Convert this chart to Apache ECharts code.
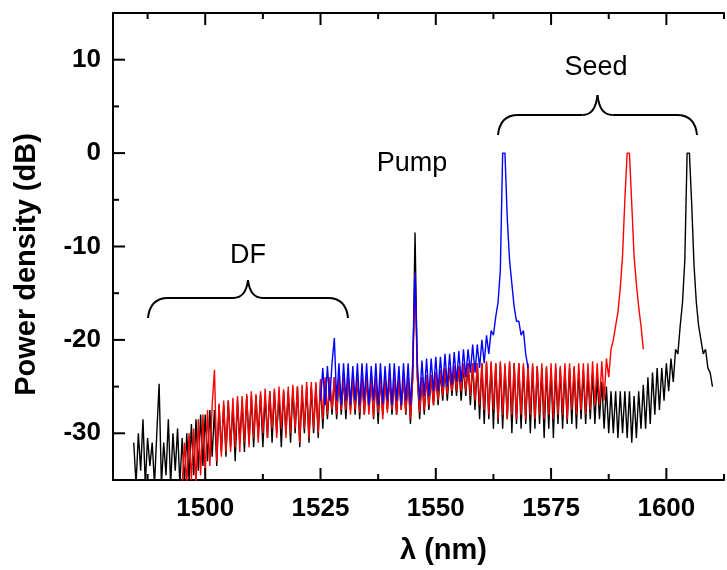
<!DOCTYPE html>
<html>
<head>
<meta charset="utf-8">
<script src="https://cdn.jsdelivr.net/npm/echarts@6/dist/echarts.min.js"></script>
<style>
  html, body { margin: 0; padding: 0; background: #fff; }
  #chart { width: 727px; height: 570px; }
</style>
</head>
<body>
<div id="chart"></div>
<script>
var STEP = 0.5;

var blackStart = 1484.5;
var blackValues = [
  -31, -35.5, -30, -34, -28.5, -35.5, -30.5, -33.5, -31, -35.5,      // 1484.5
  -30, -24.7, -35.5, -31, -34.5, -28.5, -35.5, -30, -34, -29.5,      // 1489.5
  -35.5, -30.5, -35.5, -30, -35, -29, -34.5, -28.5, -34, -28,        // 1494.5
  -33.5, -28, -33, -27.5, -32.5, -27.5, -33.5, -27, -32, -27,        // 1499.5
  -32.5, -26.5, -31.5, -27, -33, -26.5, -31, -26.5, -32, -26,        // 1504.5
  -31, -26, -31.5, -26, -30.5, -25.8, -31.5, -26, -30.5, -25.5,      // 1509.5
  -31, -25.5, -30, -25.8, -31.5, -25.5, -30, -25.5, -31, -25.2,      // 1514.5
  -30, -25, -31.5, -25.5, -30, -25, -31, -25, -30, -24.8,            // 1519.5
  -30.5, -24.5, -29.5, -24.5, -28.5, -24.5, -28, -24, -28.5, -24,    // 1524.5
  -28, -24, -28.5, -24, -27.5, -24, -28, -24, -28.5, -24,            // 1529.5
  -28, -24, -27.5, -24, -28.5, -24, -29, -24, -28, -24,              // 1534.5
  -27.5, -24, -28, -24, -28, -24, -27.5, -24, -28, -24,              // 1539.5
  -29, -24, -8.5, -24, -28.5, -24, -28, -23.8, -27.5, -23.8,         // 1544.5
  -27, -23.5, -27, -23.5, -26.5, -23.2, -26.5, -23, -26, -23,        // 1549.5
  -26, -22.8, -26.5, -22.8, -26, -22.5, -27, -22.5, -27.5, -22.5,    // 1554.5
  -28.5, -22.5, -29, -22.5, -28.5, -22.5, -29.5, -22.5, -29, -22.5,  // 1559.5
  -29.5, -22.8, -28.5, -22.5, -30, -22.5, -29, -22.5, -29.5, -22.8,  // 1564.5
  -29, -22.8, -30, -22.8, -29.5, -22.8, -29, -23, -30.5, -23,        // 1569.5
  -29.5, -23, -30.5, -23, -29, -23, -29.5, -23, -29, -23,            // 1574.5
  -29, -23, -29.5, -23.2, -28.5, -23.2, -29, -23.5, -28.5, -23.5,    // 1579.5
  -29, -24, -28.5, -24.5, -29.5, -25, -30, -25.5, -30, -25.5,        // 1584.5
  -30.5, -25.5, -30, -25.5, -30.5, -25.5, -31, -26, -30.5, -25.5,    // 1589.5
  -29.5, -24.8, -29.5, -24, -29, -23.5, -28, -23, -27.5, -23,        // 1594.5
  -26.5, -22.5, -25.5, -22, -24.5, -21, -21.5, -18.5, -16, -11.5,    // 1599.5
  0, 0, -5.5, -12, -16, -18.5, -20, -21.5, -21, -23,                 // 1604.5
  -23.5, -25                                                         // 1609.5
];

var redStart = 1495;
var redValues = [
  -35.5, -31, -35.5, -30, -35, -29.5, -35.5, -28.5, -34.5, -28,      // 1495
  -34.5, -27.5, -33.5, -27, -23.2, -33, -26.8, -32.5, -26.5, -32,    // 1500
  -26.5, -32, -26.2, -31.5, -26, -32, -26, -31, -25.8, -31.5,        // 1505
  -25.5, -30.5, -25.8, -31, -25.5, -30, -25.2, -30.5, -25.5, -29.5,  // 1510
  -25.2, -30.5, -25, -29.5, -25.3, -30.5, -25, -30, -24.8, -29.5,    // 1515
  -25, -31, -24.8, -29.5, -24.5, -30.5, -24.5, -29.5, -24.5, -30,    // 1520
  -24.2, -28.5, -24, -28, -24, -27.5, -24, -28, -23.8, -27.5,        // 1525
  -24, -27.5, -24, -28, -24, -27.5, -24, -27.8, -24, -28,            // 1530
  -24, -28, -24, -28.3, -24, -27.8, -24, -28.5, -24, -27.8,          // 1535
  -24, -27.5, -24, -28, -24, -27.5, -24, -27.8, -24, -28.5,          // 1540
  -24, -12.8, -24, -27.8, -24, -27.5, -23.8, -27, -23.8, -27,        // 1545
  -23.5, -26.5, -23.2, -26, -23, -25.8, -23, -25.5, -22.8, -25.5,    // 1550
  -22.8, -25.5, -22.5, -25.5, -22.5, -26, -22.5, -26.5, -22.5, -27,  // 1555
  -22.5, -27.5, -22.3, -28, -22.3, -27.5, -22.5, -28.5, -22.3, -28,  // 1560
  -22.5, -28.5, -22.3, -28, -22.5, -28.5, -22.5, -28, -22.5, -28.5,  // 1565
  -22.5, -28, -22.5, -28.5, -22.8, -28, -22.5, -28.5, -22.8, -28,    // 1570
  -22.5, -28.5, -22.5, -28, -22.8, -28, -22.5, -28.5, -22.5, -27.5,  // 1575
  -22.8, -28, -22.5, -27.5, -22.5, -28, -22.5, -27.5, -22.3, -27,    // 1580
  -22.5, -27, -22.3, -26.5, -22, -24, -21, -20, -18.5, -17,          // 1585
  -14.5, -11, -5, 0, 0, -5.5, -11, -14, -16.5, -18.5,                // 1590
  -21                                                                // 1595
];

var blueStart = 1525;
var blueValues = [
  -26.5, -23, -27, -22.8, -26.5, -22.5, -19.8, -26.5, -22.5, -27,    // 1525
  -22.5, -26.5, -22.5, -27, -22.8, -26.5, -22.5, -27, -22.5, -26.5,  // 1530
  -22.5, -27, -22.8, -26.5, -22.5, -27, -22.5, -26.8, -22.8, -26.5,  // 1535
  -22.5, -27, -22.5, -26.5, -22.8, -27, -22.5, -26.5, -22.5, -27,    // 1540
  -22.5, -12.8, -22.5, -26.5, -22.2, -26, -22, -26, -22, -25.5,      // 1545
  -21.8, -25.5, -21.8, -25, -21.5, -25, -21.5, -24.8, -21.3, -24.5,  // 1550
  -21.2, -24.5, -21, -24, -21, -23.5, -20.5, -23.5, -20.5, -23,      // 1555
  -20, -22.5, -19.5, -21.5, -19, -19.5, -17.5, -16, -12.5, 0,        // 1560
  0, -7, -11.5, -14, -16.5, -18, -18, -19.5, -19, -21.5,             // 1565
  -23                                                                // 1570
];

var xMajor = [1500, 1525, 1550, 1575, 1600];
var xMinor = [1487.5, 1512.5, 1537.5, 1562.5, 1587.5, 1612.5];
var yMajor = [-30, -20, -10, 0, 10];
var yMinor = [-25, -15, -5, 5];

function toPairs(start, values) {
  return values.map(function (v, i) { return [start + i * STEP, v]; });
}

var FONT = '"Liberation Sans", Arial, sans-serif';
var X_MIN = 1480, X_MAX = 1612.5, Y_MIN = -35, Y_MAX = 15;
var W = 727, H = 570;
var GRID = { left: 113, right: 3, top: 13, bottom: 90 };

function axisDef(dim, pos, labels) {
  var a = {
    type: 'value', position: pos,
    min: dim === 'x' ? X_MIN : Y_MIN,
    max: dim === 'x' ? X_MAX : Y_MAX,
    axisLine: { show: true, onZero: false, lineStyle: { color: '#000', width: 2 } },
    axisTick: { show: false },
    axisLabel: { show: false },
    splitLine: { show: false }
  };
  if (labels) {
    a.axisLabel = {
      show: true, customValues: labels, margin: dim === 'x' ? 16 : 12, color: '#000',
      fontSize: 26, fontWeight: 'bold', fontFamily: FONT,
      formatter: function (v) { return String(v); }
    };
  }
  return a;
}

var xBottom = axisDef('x', 'bottom', xMajor);
xBottom.name = 'λ (nm)';
xBottom.nameLocation = 'middle';
xBottom.nameGap = 56;
xBottom.nameTextStyle = { fontSize: 29, fontWeight: 'bold', color: '#000', fontFamily: FONT, padding: [0, 0, 0, 50] };

var yLeft = axisDef('y', 'left', yMajor);
yLeft.name = 'Power density (dB)';
yLeft.nameLocation = 'middle';
yLeft.nameGap = 72;
yLeft.nameTextStyle = { fontSize: 29, fontWeight: 'bold', color: '#000', fontFamily: FONT, padding: [0, 36, 0, 0] };

function spectrum(name, color, start, values) {
  return {
    name: name, type: 'line', xAxisIndex: 0, yAxisIndex: 0,
    data: toPairs(start, values),
    showSymbol: false, symbol: 'none', clip: true,
    lineStyle: { color: color, width: 1.4 },
    emphasis: { disabled: true }
  };
}

// curly brace built from lines and quadratic curves (pixel coordinates)
function brace(x0, x1, yEnd, yFlat, yTip) {
  var xm = (x0 + x1) / 2;
  var st = { fill: 'none', stroke: '#000', lineWidth: 2 };
  return [
    { type: 'bezierCurve', shape: { x1: x0, y1: yEnd, cpx1: x0 + 2, cpy1: yFlat, x2: x0 + 20, y2: yFlat }, style: st },
    { type: 'line', shape: { x1: x0 + 20, y1: yFlat, x2: xm - 15, y2: yFlat }, style: st },
    { type: 'bezierCurve', shape: { x1: xm - 15, y1: yFlat, cpx1: xm - 2, cpy1: yFlat, x2: xm, y2: yTip }, style: st },
    { type: 'bezierCurve', shape: { x1: xm, y1: yTip, cpx1: xm + 2, cpy1: yFlat, x2: xm + 15, y2: yFlat }, style: st },
    { type: 'line', shape: { x1: xm + 15, y1: yFlat, x2: x1 - 20, y2: yFlat }, style: st },
    { type: 'bezierCurve', shape: { x1: x1 - 20, y1: yFlat, cpx1: x1 - 2, cpy1: yFlat, x2: x1, y2: yEnd }, style: st }
  ];
}

// inward tick marks on the frame (same linear mapping as the grid)
var gx0 = GRID.left, gx1 = W - GRID.right, gy0 = GRID.top, gy1 = H - GRID.bottom;
function xPx(v) { return gx0 + (v - X_MIN) / (X_MAX - X_MIN) * (gx1 - gx0); }
function yPx(v) { return gy1 - (v - Y_MIN) / (Y_MAX - Y_MIN) * (gy1 - gy0); }
var ticks = [];
function tickLine(x1, y1, x2, y2) {
  ticks.push({
    type: 'line', z: 100,
    shape: { x1: x1, y1: y1, x2: x2, y2: y2 },
    style: { stroke: '#000', lineWidth: 2 }
  });
}
function xTicks(values, len) {
  values.forEach(function (v) {
    var px = xPx(v);
    tickLine(px, gy1, px, gy1 - len);
    tickLine(px, gy0, px, gy0 + len);
  });
}
function yTicks(values, len) {
  values.forEach(function (v) {
    var py = yPx(v);
    tickLine(gx0, py, gx0 + len, py);
  });
}
xTicks(xMajor, 12);
xTicks(xMinor, 6);
yTicks(yMajor, 12);
yTicks(yMinor, 6);

var labelStyle = { font: '27px ' + FONT, fill: '#000', align: 'center', verticalAlign: 'middle' };

var chart = echarts.init(document.getElementById('chart'));
chart.setOption({
  animation: false,
  grid: { left: GRID.left, right: GRID.right, top: GRID.top, bottom: GRID.bottom, outerBoundsMode: 'none' },
  xAxis: [xBottom, axisDef('x', 'top', null)],
  yAxis: [yLeft],
  series: [
    spectrum('black', '#000000', blackStart, blackValues),
    spectrum('red', '#ff0000', redStart, redValues),
    spectrum('blue', '#0000ff', blueStart, blueValues)
  ],
  graphic: [
    { type: 'text', x: 248, y: 256, style: Object.assign({ text: 'DF' }, labelStyle) },
    { type: 'text', x: 412, y: 164, style: Object.assign({ text: 'Pump' }, labelStyle) },
    { type: 'text', x: 596, y: 68, style: Object.assign({ text: 'Seed' }, labelStyle) }
  ].concat(brace(148, 348, 318, 298, 280), brace(498, 697, 135, 115, 95), ticks)
});
</script>
</body>
</html>
